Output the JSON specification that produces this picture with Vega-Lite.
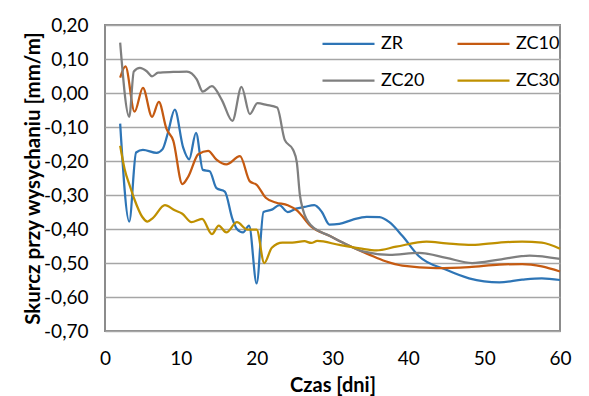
{
  "$schema": "https://vega.github.io/schema/vega-lite/v6.json",
  "width": 455,
  "height": 306,
  "autosize": "none",
  "padding": {"left": 105, "top": 25, "right": 29, "bottom": 65},
  "background": "white",
  "config": {
    "font": "Lato",
    "view": {"stroke": "#8c8c8c", "strokeWidth": 2}
  },
  "data": {
    "values": [
      {"s": "ZR", "x": 2, "y": -0.09},
      {"s": "ZR", "x": 3.2, "y": -0.378},
      {"s": "ZR", "x": 4.1, "y": -0.175},
      {"s": "ZR", "x": 5, "y": -0.167},
      {"s": "ZR", "x": 6.8, "y": -0.176},
      {"s": "ZR", "x": 7.6, "y": -0.165},
      {"s": "ZR", "x": 8.3, "y": -0.117},
      {"s": "ZR", "x": 9.2, "y": -0.049},
      {"s": "ZR", "x": 10.3, "y": -0.16},
      {"s": "ZR", "x": 11.1, "y": -0.195},
      {"s": "ZR", "x": 12, "y": -0.117},
      {"s": "ZR", "x": 12.9, "y": -0.226},
      {"s": "ZR", "x": 13.8, "y": -0.23},
      {"s": "ZR", "x": 14.7, "y": -0.28},
      {"s": "ZR", "x": 15.8, "y": -0.29},
      {"s": "ZR", "x": 16.8, "y": -0.37},
      {"s": "ZR", "x": 17.4, "y": -0.4},
      {"s": "ZR", "x": 18.2, "y": -0.41},
      {"s": "ZR", "x": 19, "y": -0.39},
      {"s": "ZR", "x": 20, "y": -0.56},
      {"s": "ZR", "x": 20.9, "y": -0.35},
      {"s": "ZR", "x": 22, "y": -0.343},
      {"s": "ZR", "x": 23, "y": -0.33},
      {"s": "ZR", "x": 24.1, "y": -0.35},
      {"s": "ZR", "x": 25.2, "y": -0.34},
      {"s": "ZR", "x": 26.3, "y": -0.335},
      {"s": "ZR", "x": 27.6, "y": -0.33},
      {"s": "ZR", "x": 28.6, "y": -0.35},
      {"s": "ZR", "x": 29.6, "y": -0.387},
      {"s": "ZR", "x": 30.9, "y": -0.385},
      {"s": "ZR", "x": 32.6, "y": -0.373},
      {"s": "ZR", "x": 34.5, "y": -0.364},
      {"s": "ZR", "x": 36.2, "y": -0.365},
      {"s": "ZR", "x": 37.5, "y": -0.38},
      {"s": "ZR", "x": 39.2, "y": -0.42},
      {"s": "ZR", "x": 41.4, "y": -0.48},
      {"s": "ZR", "x": 45, "y": -0.52},
      {"s": "ZR", "x": 48, "y": -0.545},
      {"s": "ZR", "x": 52, "y": -0.557},
      {"s": "ZR", "x": 55, "y": -0.549},
      {"s": "ZR", "x": 57.6, "y": -0.545},
      {"s": "ZR", "x": 60, "y": -0.55},

      {"s": "ZC10", "x": 2, "y": 0.045},
      {"s": "ZC10", "x": 2.7, "y": 0.078},
      {"s": "ZC10", "x": 3.9, "y": -0.055},
      {"s": "ZC10", "x": 5, "y": 0.015},
      {"s": "ZC10", "x": 6.2, "y": -0.07},
      {"s": "ZC10", "x": 7.1, "y": -0.026},
      {"s": "ZC10", "x": 8.1, "y": -0.105},
      {"s": "ZC10", "x": 9, "y": -0.14},
      {"s": "ZC10", "x": 10.2, "y": -0.268},
      {"s": "ZC10", "x": 11, "y": -0.245},
      {"s": "ZC10", "x": 12.3, "y": -0.18},
      {"s": "ZC10", "x": 13.6, "y": -0.17},
      {"s": "ZC10", "x": 14.7, "y": -0.196},
      {"s": "ZC10", "x": 16, "y": -0.21},
      {"s": "ZC10", "x": 17.8, "y": -0.186},
      {"s": "ZC10", "x": 19.1, "y": -0.26},
      {"s": "ZC10", "x": 20, "y": -0.27},
      {"s": "ZC10", "x": 21.2, "y": -0.308},
      {"s": "ZC10", "x": 22.5, "y": -0.322},
      {"s": "ZC10", "x": 24.1, "y": -0.33},
      {"s": "ZC10", "x": 25.3, "y": -0.345},
      {"s": "ZC10", "x": 27.2, "y": -0.393},
      {"s": "ZC10", "x": 29.6, "y": -0.42},
      {"s": "ZC10", "x": 32, "y": -0.447},
      {"s": "ZC10", "x": 34.9, "y": -0.476},
      {"s": "ZC10", "x": 37, "y": -0.495},
      {"s": "ZC10", "x": 39.2, "y": -0.508},
      {"s": "ZC10", "x": 43.7, "y": -0.515},
      {"s": "ZC10", "x": 48, "y": -0.512},
      {"s": "ZC10", "x": 52, "y": -0.505},
      {"s": "ZC10", "x": 55, "y": -0.503},
      {"s": "ZC10", "x": 57.6, "y": -0.51},
      {"s": "ZC10", "x": 60, "y": -0.525},

      {"s": "ZC20", "x": 2, "y": 0.148},
      {"s": "ZC20", "x": 3.2, "y": -0.07},
      {"s": "ZC20", "x": 3.8, "y": 0.063},
      {"s": "ZC20", "x": 4.6, "y": 0.074},
      {"s": "ZC20", "x": 5.5, "y": 0.064},
      {"s": "ZC20", "x": 6.2, "y": 0.049},
      {"s": "ZC20", "x": 7, "y": 0.06},
      {"s": "ZC20", "x": 9, "y": 0.062},
      {"s": "ZC20", "x": 10.8, "y": 0.063},
      {"s": "ZC20", "x": 12.1, "y": 0.04},
      {"s": "ZC20", "x": 12.9, "y": 0.004},
      {"s": "ZC20", "x": 14.1, "y": 0.02},
      {"s": "ZC20", "x": 15.4, "y": -0.02},
      {"s": "ZC20", "x": 16.8, "y": -0.082},
      {"s": "ZC20", "x": 18, "y": 0.018},
      {"s": "ZC20", "x": 19.1, "y": -0.062},
      {"s": "ZC20", "x": 20.1, "y": -0.03},
      {"s": "ZC20", "x": 21.3, "y": -0.035},
      {"s": "ZC20", "x": 22.7, "y": -0.043},
      {"s": "ZC20", "x": 23.7, "y": -0.138},
      {"s": "ZC20", "x": 24.8, "y": -0.167},
      {"s": "ZC20", "x": 25.3, "y": -0.205},
      {"s": "ZC20", "x": 25.7, "y": -0.3},
      {"s": "ZC20", "x": 26.1, "y": -0.343},
      {"s": "ZC20", "x": 27.2, "y": -0.39},
      {"s": "ZC20", "x": 29.6, "y": -0.42},
      {"s": "ZC20", "x": 32, "y": -0.447},
      {"s": "ZC20", "x": 34, "y": -0.466},
      {"s": "ZC20", "x": 37.5, "y": -0.476},
      {"s": "ZC20", "x": 41.4, "y": -0.47},
      {"s": "ZC20", "x": 45, "y": -0.485},
      {"s": "ZC20", "x": 48.4, "y": -0.5},
      {"s": "ZC20", "x": 52, "y": -0.49},
      {"s": "ZC20", "x": 56, "y": -0.478},
      {"s": "ZC20", "x": 60, "y": -0.488},

      {"s": "ZC30", "x": 2, "y": -0.155},
      {"s": "ZC30", "x": 2.6, "y": -0.225},
      {"s": "ZC30", "x": 3.3, "y": -0.275},
      {"s": "ZC30", "x": 3.9, "y": -0.314},
      {"s": "ZC30", "x": 4.9, "y": -0.364},
      {"s": "ZC30", "x": 5.6, "y": -0.378},
      {"s": "ZC30", "x": 6.3, "y": -0.368},
      {"s": "ZC30", "x": 7.9, "y": -0.33},
      {"s": "ZC30", "x": 9.2, "y": -0.345},
      {"s": "ZC30", "x": 10.2, "y": -0.355},
      {"s": "ZC30", "x": 11.4, "y": -0.38},
      {"s": "ZC30", "x": 12.8, "y": -0.37},
      {"s": "ZC30", "x": 14.1, "y": -0.415},
      {"s": "ZC30", "x": 15, "y": -0.39},
      {"s": "ZC30", "x": 16, "y": -0.41},
      {"s": "ZC30", "x": 17.4, "y": -0.38},
      {"s": "ZC30", "x": 18.8, "y": -0.402},
      {"s": "ZC30", "x": 20, "y": -0.402},
      {"s": "ZC30", "x": 21, "y": -0.5},
      {"s": "ZC30", "x": 22, "y": -0.455},
      {"s": "ZC30", "x": 23.4, "y": -0.44},
      {"s": "ZC30", "x": 24.7, "y": -0.44},
      {"s": "ZC30", "x": 26.3, "y": -0.436},
      {"s": "ZC30", "x": 27.2, "y": -0.441},
      {"s": "ZC30", "x": 28, "y": -0.435},
      {"s": "ZC30", "x": 30.9, "y": -0.447},
      {"s": "ZC30", "x": 33.6, "y": -0.457},
      {"s": "ZC30", "x": 35.8, "y": -0.463},
      {"s": "ZC30", "x": 38.4, "y": -0.452},
      {"s": "ZC30", "x": 42.4, "y": -0.437},
      {"s": "ZC30", "x": 45, "y": -0.442},
      {"s": "ZC30", "x": 48.4, "y": -0.447},
      {"s": "ZC30", "x": 52, "y": -0.44},
      {"s": "ZC30", "x": 55, "y": -0.437},
      {"s": "ZC30", "x": 57.6, "y": -0.44},
      {"s": "ZC30", "x": 60, "y": -0.458}
    ]
  },
  "mark": {"type": "line", "interpolate": "monotone", "strokeWidth": 2.25},
  "encoding": {
    "x": {
      "field": "x",
      "type": "quantitative",
      "scale": {"domain": [0, 60], "nice": false, "zero": false},
      "axis": {
        "values": [0, 10, 20, 30, 40, 50, 60],
        "grid": false,
        "domain": false,
        "ticks": false,
        "tickSize": 0,
        "labelFontSize": 19,
        "labelColor": "#000000",
        "labelPadding": 18,
        "labelFlush": false,
        "title": "Czas [dni]",
        "titleFontSize": 20,
        "titleFontWeight": "bold",
        "titleColor": "#000000",
        "titlePadding": 7
      }
    },
    "y": {
      "field": "y",
      "type": "quantitative",
      "scale": {"domain": [-0.7, 0.2], "nice": false, "zero": false},
      "axis": {
        "values": [-0.7, -0.6, -0.5, -0.4, -0.3, -0.2, -0.1, 0, 0.1, 0.2],
        "labelExpr": "replace(replace(format(datum.value, '.2f'), '.', ','), '\u2212', '-')",
        "grid": true,
        "gridColor": "#a6a6a6",
        "gridWidth": 1.5,
        "domain": false,
        "ticks": false,
        "tickSize": 0,
        "labelFontSize": 19,
        "labelColor": "#000000",
        "labelPadding": 17,
        "labelFlush": false,
        "title": "Skurcz przy wysychaniu  [mm/m]",
        "titleFontSize": 20.5,
        "titleFontWeight": "bold",
        "titleColor": "#000000",
        "titlePadding": 0
      }
    },
    "color": {
      "field": "s",
      "type": "nominal",
      "scale": {
        "domain": ["ZR", "ZC10", "ZC20", "ZC30"],
        "range": ["#2E75B6", "#C55A11", "#7F7F7F", "#BF9000"]
      },
      "legend": {
        "title": null,
        "orient": "none",
        "direction": "horizontal",
        "legendX": 216,
        "legendY": -9,
        "columns": 2,
        "columnPadding": 28,
        "rowPadding": -31,
        "symbolType": "stroke",
        "symbolSize": 2704,
        "symbolStrokeWidth": 2.25,
        "labelFontSize": 18,
        "labelColor": "#000000",
        "labelOffset": 5
      }
    }
  }
}
